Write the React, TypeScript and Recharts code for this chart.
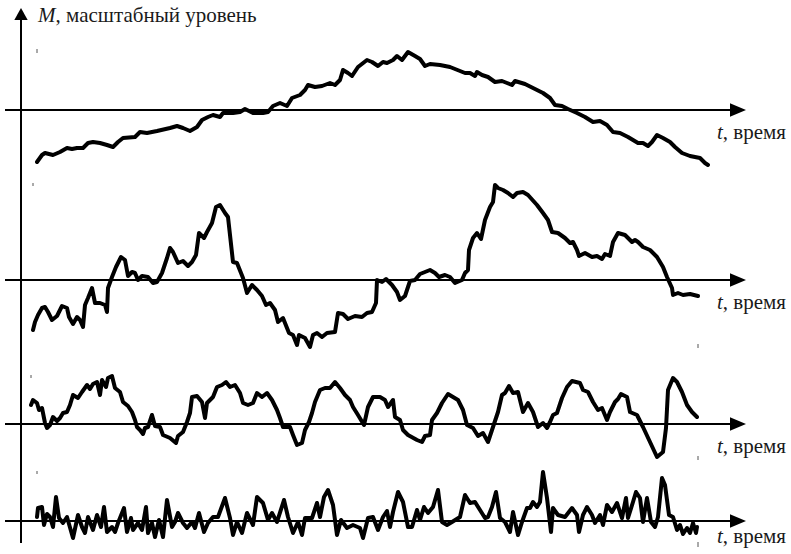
import React from "react";
import { LineChart, Line, XAxis, YAxis, ReferenceLine, ReferenceDot } from "recharts";

// Each series: [time, deviation from its own zero level]
const series1: [number, number][] = [
  [37,-52],[42,-45],[45,-43],[53,-45],[60,-42],[67,-38],[72,-39],[77,-38],[83,-38],[88,-33],[93,-32],[100,-33],[107,-35],[113,-37],[118,-32],[123,-28],[135,-27],[140,-22],[147,-23],[157,-21],[170,-18],[177,-16],[183,-18],[190,-21],[197,-17],[202,-10],[208,-7],[213,-5],[220,-7],[223,-3],[233,-3],[240,-2],[245,1],[253,-3],[263,-3],[268,-2],[273,4],[280,7],[287,4],[292,12],[300,15],[305,20],[308,25],[315,23],[322,24],[330,27],[335,25],[340,30],[343,40],[348,37],[352,34],[358,43],[367,50],[372,48],[378,44],[383,48],[387,47],[393,50],[397,54],[402,50],[408,58],[415,54],[420,51],[425,44],[430,46],[440,45],[450,43],[460,39],[465,37],[470,37],[475,34],[477,38],[482,35],[488,33],[495,28],[502,29],[507,27],[512,25],[515,29],[525,26],[533,22],[543,17],[550,12],[555,5],[562,4],[568,1],[577,-3],[585,-7],[593,-12],[600,-11],[607,-15],[613,-22],[620,-23],[628,-27],[638,-33],[643,-33],[648,-36],[652,-32],[657,-25],[663,-28],[670,-32],[675,-37],[682,-43],[690,-46],[700,-48],[705,-53],[708,-55]
];

const series2: [number, number][] = [
  [33,-50],[35,-42],[38,-35],[42,-28],[45,-27],[48,-32],[52,-40],[57,-36],[62,-26],[67,-28],[69,-37],[73,-44],[77,-37],[80,-40],[83,-47],[85,-25],[88,-18],[92,-8],[95,-23],[100,-23],[105,-25],[107,-32],[108,-8],[112,3],[116,13],[121,23],[125,20],[128,4],[132,8],[135,7],[138,0],[142,4],[148,3],[153,-3],[157,-2],[162,7],[167,22],[170,32],[173,28],[178,17],[183,19],[188,14],[192,18],[196,25],[199,47],[204,42],[207,48],[212,57],[216,73],[220,75],[225,67],[228,63],[233,18],[237,17],[243,2],[247,-13],[252,-5],[257,-10],[262,-16],[266,-25],[270,-23],[275,-30],[278,-42],[283,-38],[289,-53],[293,-55],[297,-65],[299,-55],[305,-58],[310,-67],[313,-55],[317,-53],[322,-57],[327,-53],[335,-52],[338,-33],[343,-34],[348,-39],[355,-36],[362,-37],[367,-33],[372,-32],[376,-23],[377,0],[382,-2],[386,1],[392,-5],[397,-12],[400,-20],[405,-16],[410,-1],[415,0],[420,6],[425,8],[430,10],[435,7],[439,3],[445,5],[450,3],[455,-3],[462,0],[465,7],[468,10],[469,30],[473,42],[477,47],[481,41],[485,60],[490,73],[493,78],[495,95],[498,92],[503,90],[508,87],[513,83],[517,87],[523,88],[528,85],[537,75],[543,67],[548,60],[552,48],[558,47],[565,42],[570,37],[573,38],[577,30],[579,24],[585,27],[592,23],[597,24],[602,21],[605,26],[610,24],[613,38],[618,47],[625,45],[632,38],[635,40],[638,38],[643,33],[650,30],[657,23],[663,13],[667,3],[672,-8],[673,-15],[678,-13],[683,-15],[690,-14],[698,-16]
];

const series3: [number, number][] = [
  [31,19],[33,24],[37,21],[39,14],[42,16],[45,1],[47,-4],[50,-1],[53,7],[57,3],[60,6],[63,11],[67,12],[70,19],[73,29],[78,26],[82,32],[87,39],[90,35],[93,40],[97,42],[100,29],[102,44],[106,37],[108,46],[112,48],[115,36],[120,32],[123,22],[128,18],[132,12],[135,4],[137,-3],[140,-6],[143,-10],[145,-4],[148,-3],[152,9],[155,-2],[160,-3],[163,-11],[170,-14],[176,-19],[178,-12],[183,-8],[187,2],[190,11],[192,27],[197,28],[202,22],[205,6],[207,21],[213,27],[217,37],[222,39],[226,42],[230,37],[235,39],[240,31],[243,21],[248,19],[253,21],[257,31],[262,27],[267,31],[272,24],[277,14],[280,6],[283,-3],[290,-3],[293,-11],[297,-21],[302,-19],[305,-6],[309,2],[312,11],[315,22],[320,34],[325,36],[330,36],[335,42],[340,36],[345,29],[350,24],[353,17],[358,9],[364,-1],[368,17],[373,27],[380,27],[385,24],[388,17],[393,24],[395,7],[400,4],[403,-6],[408,-11],[417,-16],[422,-18],[425,-12],[430,-11],[432,4],[437,11],[442,21],[448,30],[458,24],[463,14],[467,-1],[473,-4],[478,-12],[483,-9],[488,-18],[493,-3],[498,12],[502,29],[505,31],[509,38],[513,31],[518,32],[523,12],[528,21],[533,12],[538,-3],[543,1],[547,-4],[550,2],[553,9],[557,11],[562,26],[567,37],[572,43],[580,41],[583,34],[588,32],[593,22],[598,14],[602,16],[607,4],[610,12],[615,22],[618,25],[621,30],[627,27],[630,12],[637,9],[643,-3],[650,-18],[657,-33],[663,-28],[666,-4],[668,34],[673,46],[677,42],[682,32],[687,19],[692,12],[697,7]
];

const series4: [number, number][] = [
  [37,4],[38,13],[42,14],[44,-4],[47,7],[50,4],[53,-6],[56,24],[59,3],[63,-2],[67,4],[73,-17],[78,6],[82,-6],[85,-12],[88,4],[93,-9],[97,6],[101,-6],[104,14],[107,-11],[112,-6],[115,-11],[118,-2],[124,13],[127,-11],[131,3],[133,-9],[138,-2],[142,-9],[146,14],[148,-12],[152,-2],[155,-16],[159,1],[163,-16],[167,21],[172,-6],[175,-1],[178,8],[183,-2],[187,-7],[192,-1],[195,-7],[199,8],[204,-11],[208,-2],[213,4],[218,4],[225,23],[230,3],[233,-14],[237,-1],[242,-12],[247,8],[253,-4],[257,24],[263,18],[268,1],[272,8],[277,-1],[284,21],[288,4],[293,-12],[298,-1],[302,-14],[305,3],[312,3],[317,18],[320,4],[324,24],[328,31],[333,16],[337,-14],[341,1],[347,-7],[353,-4],[360,-7],[363,-17],[368,3],[373,4],[378,-9],[383,4],[387,10],[390,-6],[393,9],[398,29],[403,19],[408,-6],[412,-6],[417,11],[420,1],[424,14],[428,8],[433,14],[438,31],[442,-1],[447,-4],[452,-1],[460,4],[465,26],[470,18],[475,19],[480,11],[485,3],[488,4],[492,14],[496,29],[500,3],[505,-1],[510,-11],[513,9],[518,-14],[522,-1],[527,13],[530,13],[533,19],[537,14],[540,19],[543,49],[547,23],[551,-11],[553,13],[558,6],[565,4],[572,13],[577,6],[579,-11],[583,6],[587,14],[592,6],[595,-2],[600,6],[603,-4],[607,16],[612,9],[617,18],[622,3],[626,23],[628,3],[633,19],[636,29],[640,23],[643,-1],[647,23],[651,-1],[655,-6],[658,4],[662,43],[665,36],[669,6],[673,4],[677,-9],[680,-4],[683,-13],[687,-7],[690,-12],[693,-2],[696,-12],[697,-6]
];

const axisTitle = "масштабный уровень";
const timeTitle = "время";

const W = 791;
const H = 554;
const SERIF = "Liberation Serif";

const toPts = (arr: [number, number][]) => arr.map(([t, v]) => ({ t, v }));

const rows = [
  { id: "s1", level: 110, data: series1, labelDy: 29, tickL: [37, 57, 61], tickR: null as null | number[] },
  { id: "s2", level: 280, data: series2, labelDy: 29, tickL: [33, 94, 97], tickR: [698, -64, -68] },
  { id: "s3", level: 424, data: series3, labelDy: 29, tickL: [31, 46, 49], tickR: [698, -32, -36] },
  { id: "s4", level: 521, data: series4, labelDy: 22, tickL: [37, 47, 50], tickR: [698, -21, -26] },
];

const HArrow = (props: any) => {
  const { cx, cy } = props;
  return <polygon points={`${cx},${cy} ${cx - 16},${cy - 6.7} ${cx - 16},${cy + 6.7}`} fill="#000" />;
};

const VArrow = (props: any) => {
  const { cx, cy } = props;
  return <polygon points={`${cx},${cy} ${cx - 6.7},${cy + 12} ${cx + 6.7},${cy + 12}`} fill="#000" />;
};

const Labels = () => (
  <svg width={W} height={H} style={{ position: "absolute", left: 0, top: 0, pointerEvents: "none" }}>
    <text x={38} y={22} fontFamily={SERIF} fontSize={21} fill="#1a1a1a">
      <tspan fontStyle="italic">M</tspan>
      <tspan>{", " + axisTitle}</tspan>
    </text>
    {rows.map((r) => (
      <text key={r.id} x={717} y={r.level + r.labelDy} fontFamily={SERIF} fontSize={21} fill="#1a1a1a">
        <tspan fontStyle="italic">t</tspan>
        <tspan>{", " + timeTitle}</tspan>
      </text>
    ))}
  </svg>
);

export default function App() {
  return (
    <div style={{ position: "absolute", left: 0, top: 0, width: W, height: H, background: "#fff" }}>
      <LineChart width={W} height={H} margin={{ top: 0, right: 0, bottom: 0, left: 0 }}>
        <XAxis type="number" dataKey="t" domain={[0, W]} allowDataOverflow hide />
        {rows.map((r) => (
          <YAxis key={r.id} yAxisId={r.id} type="number" domain={[r.level - H, r.level]} allowDataOverflow hide />
        ))}
        <ReferenceLine
          yAxisId="s1"
          segment={[{ x: 21, y: 110 - 19 }, { x: 21, y: 110 - 543 }]}
          stroke="#000"
          strokeWidth={2}
          ifOverflow="visible"
        />
        <ReferenceDot yAxisId="s1" x={21} y={110 - 8} r={1} ifOverflow="visible" shape={VArrow} />
        {rows.map((r) => (
          <ReferenceLine
            key={"h" + r.id}
            yAxisId={r.id}
            segment={[{ x: 5, y: 0 }, { x: 731, y: 0 }]}
            stroke="#000"
            strokeWidth={2}
            ifOverflow="visible"
          />
        ))}
        {rows.map((r) => (
          <ReferenceDot key={"a" + r.id} yAxisId={r.id} x={746} y={0} r={1} ifOverflow="visible" shape={HArrow} />
        ))}
        {rows.map((r) => (
          <ReferenceLine
            key={"tl" + r.id}
            yAxisId={r.id}
            segment={[{ x: r.tickL[0], y: r.tickL[1] }, { x: r.tickL[0], y: r.tickL[2] }]}
            stroke="#555"
            strokeWidth={1}
            ifOverflow="visible"
          />
        ))}
        {rows
          .filter((r) => r.tickR)
          .map((r) => (
            <ReferenceLine
              key={"tr" + r.id}
              yAxisId={r.id}
              segment={[{ x: r.tickR![0], y: r.tickR![1] }, { x: r.tickR![0], y: r.tickR![2] }]}
              stroke="#555"
              strokeWidth={1}
              ifOverflow="visible"
            />
          ))}
        {rows.map((r) => (
          <Line
            key={r.id}
            yAxisId={r.id}
            data={toPts(r.data)}
            dataKey="v"
            type="linear"
            stroke="#000"
            strokeWidth={4}
            strokeLinejoin="round"
            strokeLinecap="round"
            dot={false}
            activeDot={false}
            isAnimationActive={false}
          />
        ))}
      </LineChart>
      <Labels />
    </div>
  );
}
